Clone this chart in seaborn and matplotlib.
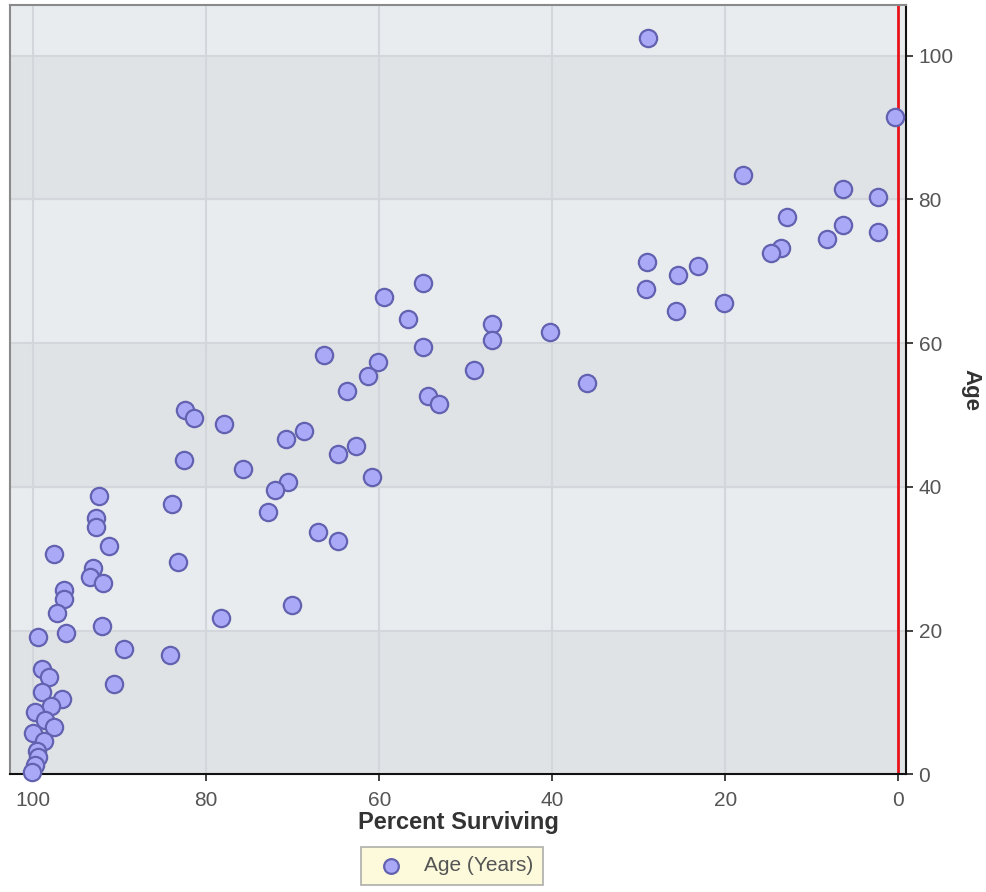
import matplotlib
matplotlib.use("Agg")
import matplotlib.pyplot as plt
import seaborn as sns
import pandas as pd

# Percent surviving (x) and age in years (y)
pct_surviving = [
    28.9, 0.4, 17.9, 6.4, 2.4, 12.9, 2.4, 6.4, 8.2, 13.6, 14.7, 29.1, 23.2, 25.5,
    29.2, 20.2, 25.7, 40.3, 36.0,
    54.9, 59.5, 56.7, 47.0, 47.0, 54.9, 66.4, 60.2, 61.3, 49.1, 63.7, 54.4, 53.1,
    68.7, 70.8, 62.7, 64.8, 70.6, 72.0, 60.8, 72.9, 67.1, 64.8, 70.1,
    82.4, 81.4, 78.0, 82.6, 75.7, 92.4, 84.0, 92.8, 92.8, 91.2, 97.6, 83.3, 93.1,
    93.4, 91.9, 96.5, 96.5, 97.3, 78.3, 92.1, 96.2, 99.5, 89.5, 84.2, 90.7,
    99.0, 98.2, 99.0, 96.7, 98.0, 99.8, 98.6, 97.6, 100.0, 98.8, 99.6, 99.4,
    99.8, 100.1,
]
age_years = [
    102.4, 91.5, 83.4, 81.5, 80.4, 77.6, 75.4, 76.5, 74.5, 73.3, 72.6, 71.3, 70.7,
    69.5, 67.5, 65.6, 64.5, 61.5, 54.4,
    68.4, 66.4, 63.3, 62.6, 60.5, 59.4, 58.3, 57.4, 55.4, 56.3, 53.3, 52.6, 51.5,
    47.7, 46.6, 45.7, 44.5, 40.7, 39.5, 41.4, 36.5, 33.7, 32.5, 23.6,
    50.7, 49.6, 48.8, 43.7, 42.5, 38.7, 37.6, 35.7, 34.4, 31.7, 30.7, 29.5, 28.7,
    27.4, 26.6, 25.6, 24.4, 22.5, 21.7, 20.6, 19.6, 19.1, 17.5, 16.6, 12.5,
    14.7, 13.5, 11.4, 10.5, 9.5, 8.7, 7.5, 6.6, 5.7, 4.6, 3.3, 2.4,
    1.3, 0.3,
]
x_ticks = [100, 80, 60, 40, 20, 0]
y_ticks = [0, 20, 40, 60, 80, 100]
band_edges = [(0, 20), (40, 60), (80, 100)]

df = pd.DataFrame({"Percent Surviving": pct_surviving, "Age": age_years})

sns.set_style("white")
plt.rcParams["font.family"] = ["Liberation Sans", "DejaVu Sans"]

fig = plt.figure(figsize=(9.87, 8.92), dpi=100)
ax = fig.add_axes([0.010, 0.132, 0.908, 0.862])
ax.set_facecolor("#e9ecef")

# alternating horizontal bands
for lo, hi in band_edges:
    ax.axhspan(lo, hi, color="#e0e3e6", zorder=0)
for v in y_ticks[1:]:
    ax.axhline(v, color="#d3d6da", lw=1.5, zorder=1)
for v in x_ticks[:-1]:
    ax.axvline(v, color="#d3d6da", lw=1.5, zorder=1)

ax.axvline(0, color="#e8141b", lw=2, zorder=2)

sns.scatterplot(data=df, x="Percent Surviving", y="Age", ax=ax,
                s=155, color="#a9a9f7", edgecolor="#6262b0", linewidth=1.6,
                label="Age (Years)", zorder=3, clip_on=False)

ax.set_xlim(102.7, -0.9)
ax.set_ylim(0, 107)
ax.set_xticks(x_ticks)
ax.set_yticks(y_ticks)

ax.yaxis.tick_right()
ax.yaxis.set_label_position("right")
ax.tick_params(axis="both", direction="out", length=5, width=1.2,
               colors="#222222", labelcolor="#555555", labelsize=15)
ax.tick_params(axis="x", bottom=True, pad=7)
ax.tick_params(axis="y", right=True, pad=4)

for side in ["left", "top"]:
    ax.spines[side].set_color("#8a8a8a")
    ax.spines[side].set_linewidth(1.5)
for side in ["right", "bottom"]:
    ax.spines[side].set_color("#111111")
    ax.spines[side].set_linewidth(1.5)

ax.set_xlabel("Percent Surviving", fontsize=17, fontweight="bold",
              color="#333333", labelpad=1)
ax.set_ylabel("Age", fontsize=16, fontweight="bold", color="#333333",
              rotation=-90, labelpad=20)

leg = ax.legend(loc="upper center", bbox_to_anchor=(0.493, -0.081),
                frameon=True, fancybox=False, fontsize=15,
                handletextpad=0.6, borderpad=0.45, markerscale=0.85)
leg.get_frame().set_facecolor("#fcf9d2")
leg.get_frame().set_edgecolor("#9a9a9a")
leg.get_frame().set_linewidth(1.2)
for t in leg.get_texts():
    t.set_color("#555555")

fig.savefig("out.png", dpi=100)
